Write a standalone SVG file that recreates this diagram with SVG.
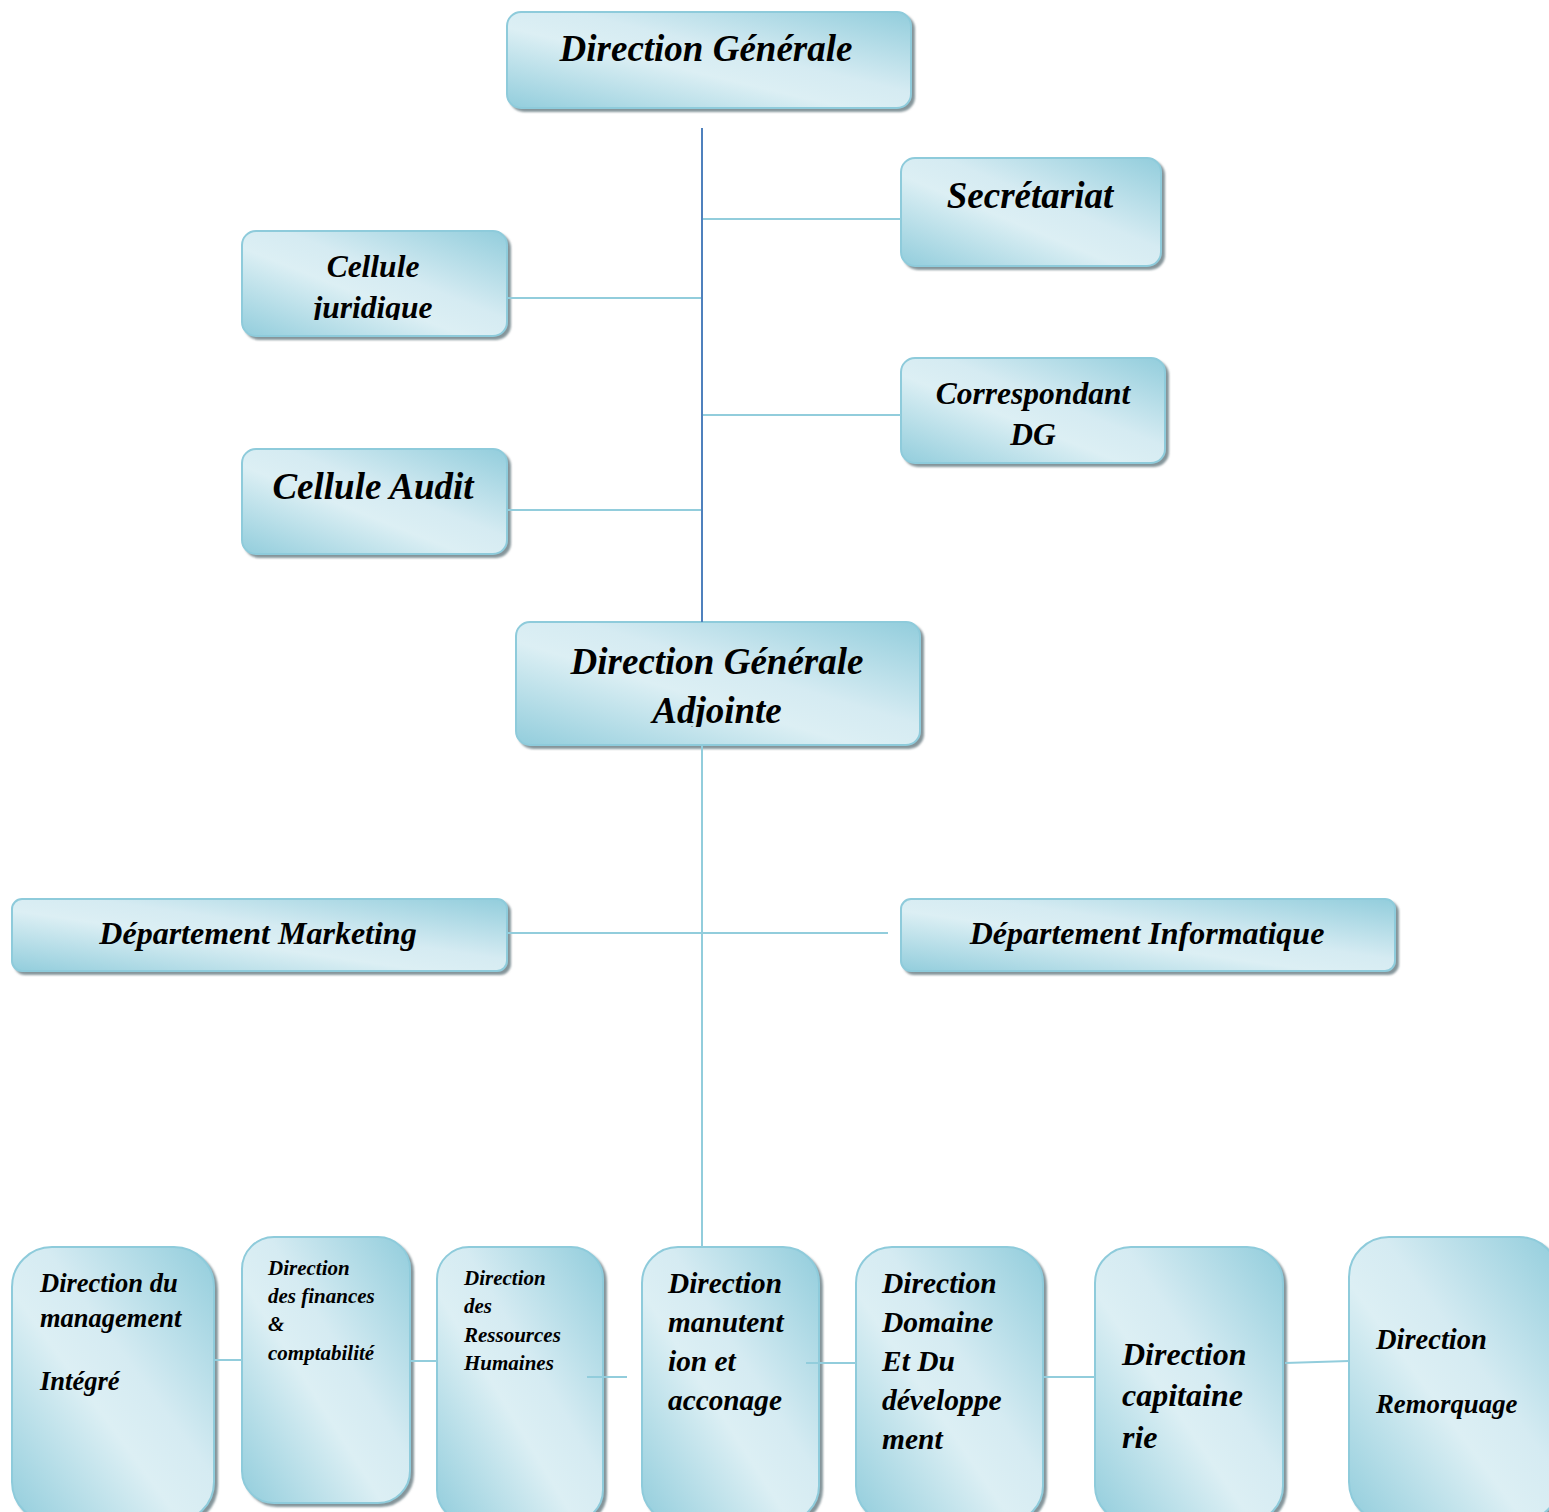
<svg xmlns="http://www.w3.org/2000/svg" width="1549" height="1512" viewBox="0 0 1549 1512">
  <defs>
    <!-- diagonal "moderate effect" fill: dark corners, light band across the middle -->
    <linearGradient id="fill" x1="1" y1="0" x2="0" y2="1">
      <stop offset="0" stop-color="#92cddc"/>
      <stop offset="0.42" stop-color="#d5ebf2"/>
      <stop offset="0.58" stop-color="#dceff4"/>
      <stop offset="1" stop-color="#92cddc"/>
    </linearGradient>
    <filter id="shadow" x="-10%" y="-10%" width="120%" height="120%">
      <feDropShadow dx="3" dy="3" stdDeviation="1.2" flood-color="#6f8389" flood-opacity="0.85"/>
    </filter>
    <clipPath id="clipJur">
      <rect x="242" y="231" width="266" height="89"/>
    </clipPath>
    <clipPath id="clipDga">
      <rect x="516" y="622" width="405" height="105"/>
    </clipPath>
  </defs>
  <style>
    .box { fill: url(#fill); stroke: #8ecbdb; stroke-width: 2; filter: url(#shadow); }
    .lbl { font-family: "Liberation Serif", "Times New Roman", serif; font-weight: bold; font-style: italic; fill: #000; }
    .c { text-anchor: middle; }
    .link { stroke: #92cddc; stroke-width: 2; fill: none; }
    .spine { stroke: #4f81bd; stroke-width: 2; fill: none; }
  </style>
  <rect width="1549" height="1512" fill="#ffffff"/>

  <g id="direction-generale">
    <rect class="box" x="507" y="12" width="404" height="96" rx="14"/>
    <text class="lbl c" x="706" y="61" font-size="37">Direction Générale</text>
  </g>

  <g id="secretariat">
    <rect class="box" x="901" y="158" width="260" height="108" rx="14"/>
    <text class="lbl c" x="1030" y="208" font-size="37">Secrétariat</text>
  </g>

  <g id="cellule-juridique">
    <rect class="box" x="242" y="231" width="265" height="105" rx="14"/>
    <text class="lbl c" x="373" y="277" font-size="31.5">Cellule</text>
    <text class="lbl c" x="373" y="318" font-size="31.5" clip-path="url(#clipJur)">juridique</text>
  </g>

  <g id="correspondant-dg">
    <rect class="box" x="901" y="358" width="264" height="105" rx="14"/>
    <text class="lbl c" x="1033" y="404" font-size="31.5">Correspondant</text>
    <text class="lbl c" x="1033" y="445" font-size="31.5">DG</text>
  </g>

  <g id="cellule-audit">
    <rect class="box" x="242" y="449" width="265" height="105" rx="14"/>
    <text class="lbl c" x="373" y="499" font-size="37">Cellule Audit</text>
  </g>

  <g id="direction-generale-adjointe">
    <rect class="box" x="516" y="622" width="404" height="123" rx="14"/>
    <text class="lbl c" x="717" y="674" font-size="37">Direction Générale</text>
    <text class="lbl c" x="717" y="723" font-size="37" clip-path="url(#clipDga)">Adjointe</text>
  </g>

  <g id="departement-marketing">
    <rect class="box" x="12" y="899" width="495" height="72" rx="10"/>
    <text class="lbl c" x="258" y="944" font-size="32">Département Marketing</text>
  </g>

  <g id="departement-informatique">
    <rect class="box" x="901" y="899" width="494" height="72" rx="10"/>
    <text class="lbl c" x="1147" y="944" font-size="32">Département Informatique</text>
  </g>

  <g id="direction-management-integre">
    <rect class="box" x="12" y="1247" width="202" height="275" rx="40"/>
    <text class="lbl" x="40" y="1292" font-size="26.5">Direction du</text>
    <text class="lbl" x="40" y="1327" font-size="26.5">management</text>
    <text class="lbl" x="40" y="1390" font-size="26.5">Intégré</text>
  </g>

  <g id="direction-finances">
    <rect class="box" x="242" y="1237" width="168" height="266" rx="32"/>
    <text class="lbl" x="268" y="1275" font-size="21">Direction</text>
    <text class="lbl" x="268" y="1303" font-size="21">des finances</text>
    <text class="lbl" x="268" y="1331" font-size="21">&amp;</text>
    <text class="lbl" x="268" y="1360" font-size="21">comptabilité</text>
  </g>

  <g id="direction-ressources-humaines">
    <rect class="box" x="437" y="1247" width="166" height="275" rx="32"/>
    <text class="lbl" x="464" y="1285" font-size="21">Direction</text>
    <text class="lbl" x="464" y="1313" font-size="21">des</text>
    <text class="lbl" x="464" y="1342" font-size="21">Ressources</text>
    <text class="lbl" x="464" y="1370" font-size="21">Humaines</text>
  </g>

  <g id="direction-manutention">
    <rect class="box" x="642" y="1247" width="177" height="275" rx="36"/>
    <text class="lbl" x="668" y="1293" font-size="29.3">Direction</text>
    <text class="lbl" x="668" y="1332" font-size="29.3">manutent</text>
    <text class="lbl" x="668" y="1371" font-size="29.3">ion et</text>
    <text class="lbl" x="668" y="1410" font-size="29.3">acconage</text>
  </g>

  <g id="direction-domaine">
    <rect class="box" x="856" y="1247" width="187" height="275" rx="36"/>
    <text class="lbl" x="882" y="1293" font-size="29.5">Direction</text>
    <text class="lbl" x="882" y="1332" font-size="29.5">Domaine</text>
    <text class="lbl" x="882" y="1371" font-size="29.5">Et Du</text>
    <text class="lbl" x="882" y="1410" font-size="29.5">développe</text>
    <text class="lbl" x="882" y="1449" font-size="29.5">ment</text>
  </g>

  <g id="direction-capitainerie">
    <rect class="box" x="1095" y="1247" width="188" height="275" rx="36"/>
    <text class="lbl" x="1122" y="1365" font-size="32">Direction</text>
    <text class="lbl" x="1122" y="1406" font-size="32">capitaine</text>
    <text class="lbl" x="1122" y="1448" font-size="32">rie</text>
  </g>

  <g id="direction-remorquage">
    <rect class="box" x="1349" y="1237" width="210" height="285" rx="40"/>
    <text class="lbl" x="1376" y="1349" font-size="28.5">Direction</text>
    <text class="lbl" x="1376" y="1413" font-size="26.8">Remorquage</text>
  </g>

  <!-- connectors, drawn last: two short stubs sit over the edge of a box -->
  <g id="connectors">
    <line class="spine" x1="702" y1="128" x2="702" y2="622"/>
    <line class="link" x1="703" y1="219" x2="901" y2="219"/>
    <line class="link" x1="508" y1="298" x2="701" y2="298"/>
    <line class="link" x1="703" y1="415" x2="901" y2="415"/>
    <line class="link" x1="508" y1="510" x2="701" y2="510"/>
    <line class="link" x1="702" y1="746" x2="702" y2="1247"/>
    <line class="link" x1="508" y1="933" x2="888" y2="933"/>
    <line class="link" x1="215" y1="1360" x2="242" y2="1360"/>
    <line class="link" x1="411" y1="1361" x2="437" y2="1361"/>
    <line class="link" x1="587" y1="1377" x2="627" y2="1377"/>
    <line class="link" x1="806" y1="1363" x2="856" y2="1363"/>
    <line class="link" x1="1044" y1="1377" x2="1095" y2="1377"/>
    <line class="link" x1="1285" y1="1363" x2="1349" y2="1361"/>
  </g>
</svg>
